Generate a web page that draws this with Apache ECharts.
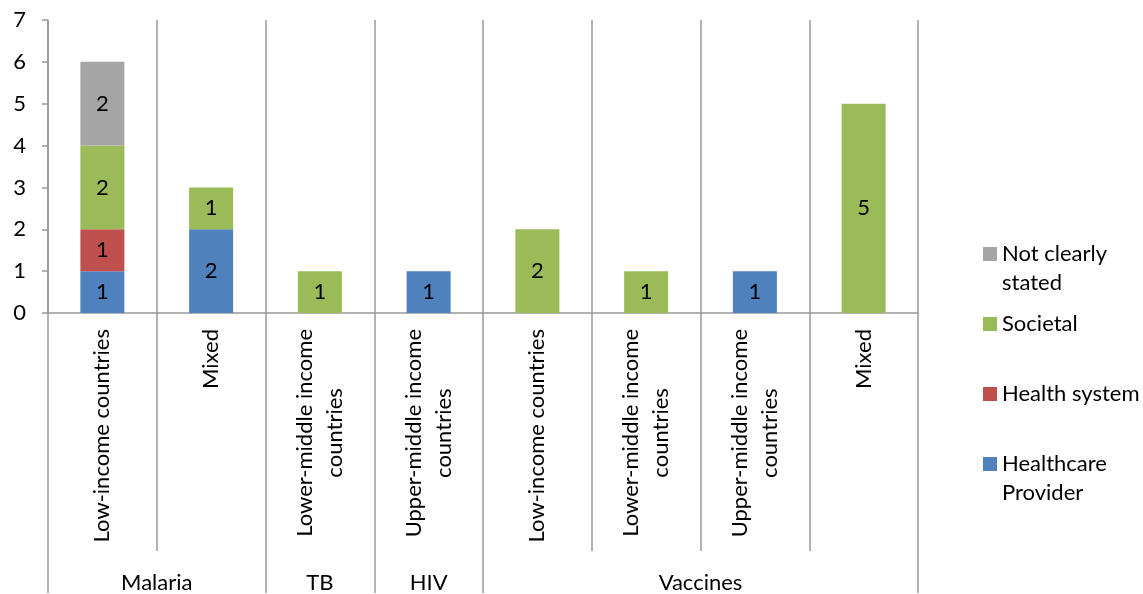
<!DOCTYPE html>
<html><head><meta charset="utf-8">
<script src="https://cdn.jsdelivr.net/npm/echarts@6/dist/echarts.min.js"></script>
<style>html,body{margin:0;padding:0;background:#fff}#c{width:1143px;height:594px}</style>
</head><body><div id="c"></div>
<script>
const categories = ['Low-income countries', 'Mixed', 'Lower-middle income\ncountries', 'Upper-middle income\ncountries',
  'Low-income countries', 'Lower-middle income\ncountries', 'Upper-middle income\ncountries', 'Mixed'];
const groupNames = ['Malaria', 'TB', 'HIV', 'Vaccines'];
const groupSizes = [2, 1, 1, 4];
const healthcareProvider = [1, 2, null, 1, null, null, 1, null];
const healthSystem = [1, null, null, null, null, null, null, null];
const societal = [2, 1, 1, null, 2, 1, null, 5];
const notClearlyStated = [2, null, null, null, null, null, null, null];
const yMin = 0, yMax = 7, yStep = 1;

const FONT = 'Lato';
const FS = 22;
const LINE = '#999999';

// group boundaries and centers (in half-category units)
const groupStarts = [];
let acc = 0;
groupSizes.forEach(s => { groupStarts.push(acc); acc += s; });
const halfSlots = new Array(categories.length * 2 + 1).fill('');
groupNames.forEach((g, i) => { halfSlots[2 * groupStarts[i] + groupSizes[i]] = g; });

const chart = echarts.init(document.getElementById('c'));
const labelStyle = {show: true, position: 'inside', color: '#000', fontSize: FS, fontFamily: FONT};
function bar(name, data, color) {
  return {name, type: 'bar', stack: 'all', data, barWidth: 44, xAxisIndex: 0,
    itemStyle: {color}, label: labelStyle, emphasis: {disabled: true}};
}
function legend(name, iconCenter, lines) {
  const twoLine = !!lines;
  return {
    data: [name], orient: 'vertical', left: 983,
    top: twoLine ? iconCenter - 43.5 : iconCenter - 14.5,
    padding: 0, itemWidth: 14, itemHeight: 14, icon: 'rect',
    formatter: n => twoLine ? ' \n' + lines.join('\n') : n,
    textStyle: {fontSize: FS, fontFamily: FONT, color: '#000', lineHeight: 29}
  };
}
chart.setOption({
  animation: false,
  grid: {left: 48, right: 225, top: 20, bottom: 280},
  legend: [
    legend('Not clearly stated', 254, ['Not clearly', 'stated']),
    legend('Societal', 324),
    legend('Health system', 394),
    legend('Healthcare Provider', 464, ['Healthcare', 'Provider'])
  ],
  xAxis: [
    {
      type: 'category', data: categories, position: 'bottom',
      axisLine: {lineStyle: {color: LINE, width: 1.5}},
      axisTick: {show: true, interval: 0, length: 238, lineStyle: {color: LINE, width: 1.5}},
      splitLine: {show: true, interval: 0, lineStyle: {color: LINE, width: 1.5}},
      axisLabel: {
        interval: 0, rotate: 90, margin: 16, color: '#000',
        formatter: v => v.split('\n').map(s => '{c|' + s + '}').join('\n'),
        rich: {c: {align: 'center', fontSize: FS, fontFamily: FONT, lineHeight: 30, color: '#000'}}
      }
    },
    {
      type: 'category', data: categories, position: 'bottom',
      axisLine: {show: false},
      axisTick: {show: true, interval: idx => groupStarts.includes(idx), length: 280,
        lineStyle: {color: LINE, width: 1.5}},
      axisLabel: {show: false}, splitLine: {show: false}
    },
    {
      type: 'category', data: halfSlots, position: 'bottom', boundaryGap: false, offset: 250,
      axisLine: {show: false}, axisTick: {show: false}, splitLine: {show: false},
      axisLabel: {interval: 0, margin: 9, fontSize: FS, fontFamily: FONT, color: '#000'}
    }
  ],
  yAxis: {
    type: 'value', min: yMin, max: yMax, interval: yStep,
    axisLine: {show: true, lineStyle: {color: LINE, width: 1.5}},
    axisTick: {show: true, length: 6, lineStyle: {color: LINE, width: 1.5}},
    splitLine: {show: false},
    axisLabel: {margin: 22, fontSize: FS, fontFamily: FONT, color: '#000'}
  },
  series: [
    bar('Healthcare Provider', healthcareProvider, '#4F81BD'),
    bar('Health system', healthSystem, '#C0504D'),
    bar('Societal', societal, '#9BBB59'),
    bar('Not clearly stated', notClearlyStated, '#A5A5A5')
  ]
});
</script></body></html>
